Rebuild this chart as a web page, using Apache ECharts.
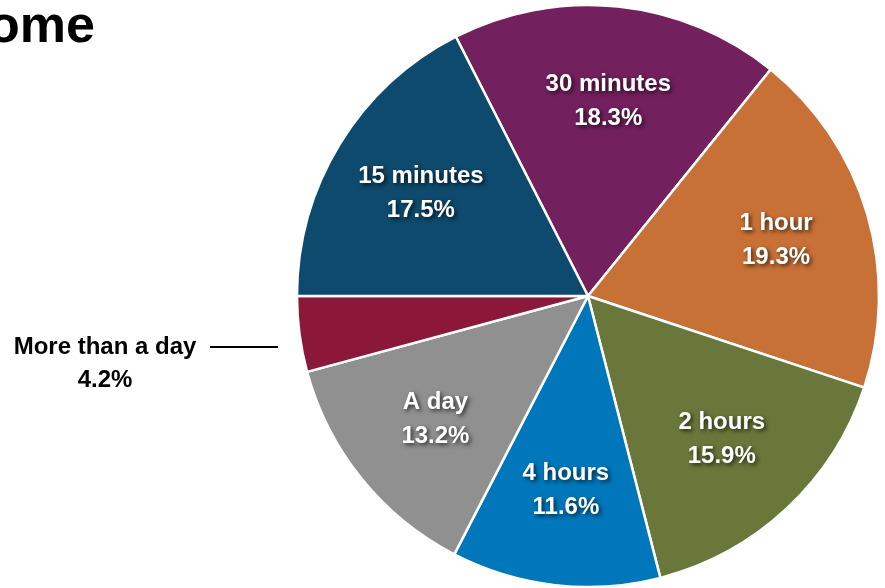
<!DOCTYPE html>
<html>
<head>
<meta charset="utf-8">
<script src="https://cdn.jsdelivr.net/npm/echarts@6/dist/echarts.min.js"></script>
<style>
html,body{margin:0;padding:0;background:#fff;}
#c{width:885px;height:588px;}
</style>
</head>
<body>
<div id="c"></div>
<script>
const categories = ['30 minutes', '1 hour', '2 hours', '4 hours', 'A day', 'More than a day', '15 minutes'];
const values = [18.3, 19.3, 15.9, 11.6, 13.2, 4.2, 17.5];
const sliceColors = ['#72205E', '#C87137', '#69773B', '#0077BB', '#8F908F', '#8B1839', '#0E4A6D'];
const titleText = 'Time before coming home';

const FONT = '"Liberation Sans", Arial, sans-serif';
const OUTSIDE_INDEX = 5;

const chart = echarts.init(document.getElementById('c'), null, {renderer: 'canvas'});

const mainData = categories.map((name, i) => {
  const item = {name: name, value: values[i], itemStyle: {color: sliceColors[i]}};
  if (i === OUTSIDE_INDEX) {
    item.label = {show: true};
    item.labelLine = {show: true, lineStyle: {color: '#000', width: 2.2}};
  }
  return item;
});

const labelData = categories.map((name, i) => {
  const item = {name: name, value: values[i]};
  if (i === OUTSIDE_INDEX) item.label = {show: false};
  return item;
});

const option = {
  animation: false,
  backgroundColor: '#ffffff',
  title: {
    text: titleText,
    right: 790,
    top: 0,
    padding: 0,
    textStyle: {fontFamily: FONT, fontSize: 52, fontWeight: 'bold', color: '#000', lineHeight: 56}
  },
  series: [
    {
      type: 'pie',
      center: [588, 296],
      radius: [0, 291],
      startAngle: 117,
      clockwise: true,
      avoidLabelOverlap: false,
      silent: true,
      itemStyle: {borderColor: '#ffffff', borderWidth: 2.5},
      label: {
        show: false,
        position: 'outside',
        formatter: '{b}\n{c}%',
        fontFamily: FONT,
        fontSize: 24,
        fontWeight: 'bold',
        lineHeight: 33,
        color: '#000',
        align: 'center'
      },
      labelLine: {show: false, lineStyle: {color: '#000', width: 2.2}},
      labelLayout: function (p) {
        if (p.dataIndex !== OUTSIDE_INDEX) return {};
        return {
          x: 105, y: 364, align: 'center', verticalAlign: 'middle',
          labelLinePoints: [[278, 347], [244, 347], [210, 347]]
        };
      },
      data: mainData
    },
    {
      type: 'pie',
      center: [588, 296],
      radius: [95, 291],
      startAngle: 117,
      clockwise: true,
      silent: true,
      avoidLabelOverlap: false,
      itemStyle: {color: 'rgba(0,0,0,0)', borderWidth: 0},
      label: {
        show: true,
        position: 'inside',
        formatter: '{b}\n{c}%',
        fontFamily: FONT,
        fontSize: 24,
        fontWeight: 'bold',
        lineHeight: 34,
        color: '#ffffff',
        textShadowColor: 'rgba(0,0,0,0.7)',
        textShadowBlur: 4,
        textShadowOffsetX: 2,
        textShadowOffsetY: 2
      },
      labelLine: {show: false},
      data: labelData
    }
  ]
};
chart.setOption(option);
</script>
</body>
</html>
